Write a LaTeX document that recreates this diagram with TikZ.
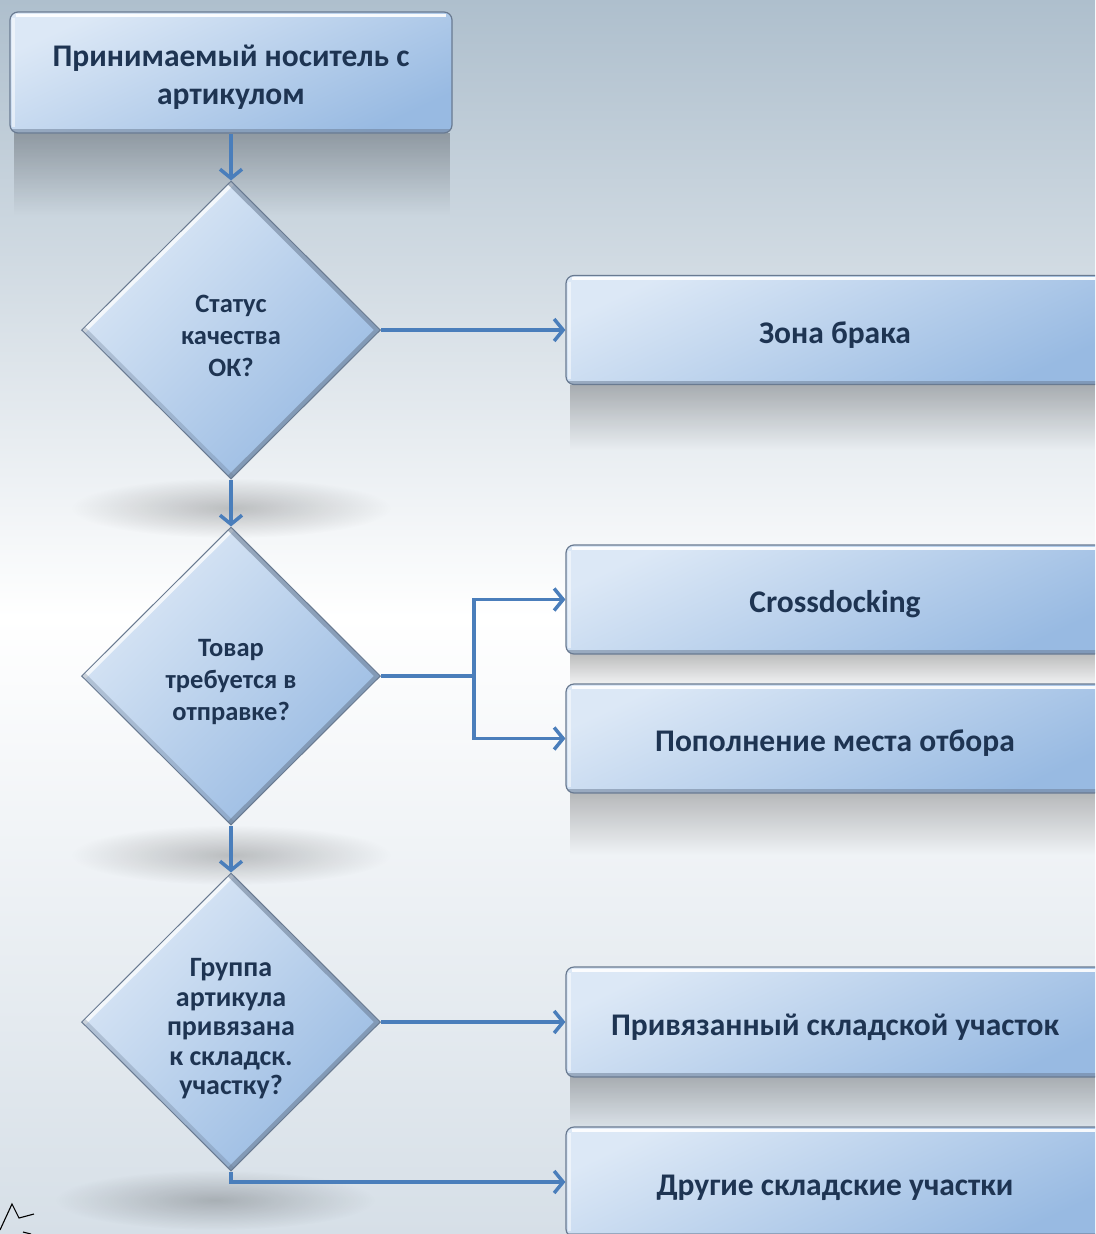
\documentclass[tikz,border=0pt]{standalone}
\usepackage{fontspec}
\setmainfont{Carlito}
\usetikzlibrary{shapes.geometric,arrows.meta,fadings}

\definecolor{bgtop}{RGB}{174,191,205}
\definecolor{bgbot}{RGB}{214,223,231}
\definecolor{boxlight}{RGB}{220,232,246}
\definecolor{boxdark}{RGB}{152,186,226}
\definecolor{boxline}{RGB}{105,122,145}
\definecolor{txt}{RGB}{30,52,82}
\definecolor{flow}{RGB}{74,126,187}

\tikzfading[name=fade down, top color=transparent!75, bottom color=transparent!100]
\tikzfading[name=soft blob, inner color=transparent!78, outer color=transparent!100]

% strut that pushes the first text line down a little
\newcommand{\lowr}[1]{\rule{0pt}{#1em}}

\tikzset{
  card/.style={rectangle, rounded corners=8pt, draw=boxline, line width=1.2pt,
    top color=boxlight, bottom color=boxdark, shading angle=25,
    text=txt, align=center, inner sep=0pt,
    font=\bfseries\fontsize{31.5}{38}\selectfont,
    path picture={
      \draw[white, opacity=.9, line width=3pt]
        ([xshift=6pt,yshift=-3pt]path picture bounding box.north west) --
        ([xshift=-6pt,yshift=-3pt]path picture bounding box.north east);
      \draw[white, opacity=.5, line width=3pt]
        ([xshift=3pt,yshift=-6pt]path picture bounding box.north west) --
        ([xshift=3pt,yshift=6pt]path picture bounding box.south west);
      \draw[boxline, opacity=.5, line width=4pt]
        ([yshift=2pt]path picture bounding box.south west) --
        ([yshift=2pt]path picture bounding box.south east);
    }},
  sidecard/.style={card, minimum width=538pt, minimum height=109pt},
  query/.style={diamond, aspect=1, inner sep=0pt, draw=boxline, line width=1pt,
    minimum width=299pt, minimum height=298pt,
    top color=boxlight, bottom color=boxdark, shading angle=45,
    text=txt, align=center,
    font=\bfseries\fontsize{26.5}{32}\selectfont,
    path picture={
      \draw[white, opacity=.75, line width=9pt]
        (path picture bounding box.west) -- (path picture bounding box.north);
      \draw[boxline, opacity=.55, line width=9pt]
        (path picture bounding box.north) -- (path picture bounding box.east)
        -- (path picture bounding box.south);
      \draw[boxline, opacity=.3, line width=9pt]
        (path picture bounding box.south) -- (path picture bounding box.west);
    }},
  flowline/.style={draw=flow, line width=3.5pt,
    -{Straight Barb[length=9pt,width=22pt]}}
}

\begin{document}
\begin{tikzpicture}[x=1pt, y=-1pt]
  \path[use as bounding box] (0,0) rectangle (1095,1234);
  \clip (0,0) rectangle (1095,1234);
  \fill[top color=bgtop, bottom color=bgbot, middle color=white] (0,0) rectangle (1095,1234);

  % soft shadows
  \fill[black, path fading=fade down] (14,133) rectangle (450,215);
  \fill[black, path fading=fade down] (570,385) rectangle (1095,450);
  \fill[black, path fading=fade down] (570,654) rectangle (1095,690);
  \fill[black, path fading=fade down] (570,793) rectangle (1095,855);
  \fill[black, path fading=fade down] (570,1077) rectangle (1095,1130);
  \fill[black, path fading=soft blob] (231,508) ellipse [x radius=160pt, y radius=30pt];
  \fill[black, path fading=soft blob] (231,855) ellipse [x radius=160pt, y radius=30pt];
  \fill[black, path fading=soft blob] (215,1200) ellipse [x radius=160pt, y radius=30pt];

  % left column
  \node[card, minimum width=442pt, minimum height=121pt] (recv) at (231,72.5)
    {\lowr{1.0}Принимаемый носитель с\\артикулом};
  \node[query] (qok) at (231,330) {\lowr{1.1}Статус\\качества\\ОК?};
  \node[query] (qship) at (231,676) {\lowr{1.1}Товар\\требуется в\\отправке?};
  \node[query, font=\bfseries\fontsize{28}{29.5}\selectfont] (qzone) at (231,1022)
    {\lowr{1.15}Группа\\артикула\\привязана\\к складск.\\участку?};

  % right column
  \node[sidecard] (scrap) at (835,330) {\lowr{1.0}Зона брака};
  \node[sidecard] (xdock) at (835,599.5) {\lowr{1.0}Crossdocking};
  \node[sidecard] (refill) at (835,738.5) {\lowr{1.0}Пополнение места отбора};
  \node[sidecard, minimum height=110pt] (bound) at (835,1022) {\lowr{1.0}Привязанный складской участок};
  \node[sidecard, minimum height=110pt] (other) at (835,1182) {\lowr{1.0}Другие складские участки};

  % connectors
  \draw[flowline] (recv) -- (qok);
  \draw[flowline] (qok) -- (qship);
  \draw[flowline] (qship) -- (qzone);
  \draw[flowline] (qok.east) -- (scrap.west);
  \coordinate (split) at ([xshift=93pt]qship.east);
  \draw[flowline] (qship.east) -- (split) |- (xdock.west);
  \draw[flowline] (split) |- (refill.west);
  \draw[flowline] (qzone.east) -- (bound.west);
  \draw[flowline] (qzone.south) |- (other.west);

  % scrap of a sketch at the corner
  \draw[black, line width=1.1pt] (0,1230) -- (12,1204) -- (19,1218) -- (34,1214);
  \draw[black, line width=1.1pt] (23,1232) -- (31,1234);
\end{tikzpicture}
\end{document}
